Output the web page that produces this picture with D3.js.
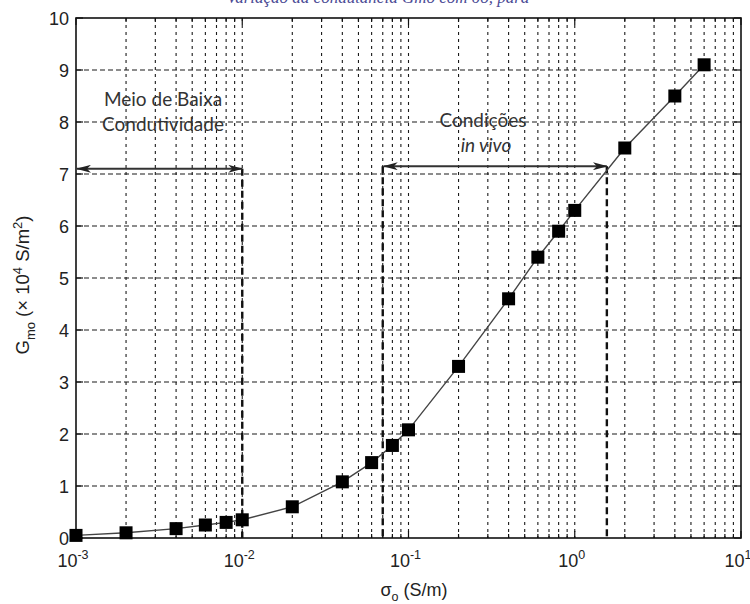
<!DOCTYPE html>
<html>
<head>
<meta charset="utf-8">
<script src="https://cdn.jsdelivr.net/npm/d3@7"></script>
<style>
  body { margin: 0; background: #fff; }
  svg { display: block; }
</style>
</head>
<body>
<script>
// Membrane conductance vs. medium conductivity
const sigma = [0.001, 0.002, 0.004, 0.006, 0.008, 0.01, 0.02, 0.04, 0.06, 0.08, 0.1,
               0.2, 0.4, 0.6, 0.8, 1, 2, 4, 6];
const gmo   = [0.05, 0.1, 0.18, 0.25, 0.3, 0.35, 0.6, 1.08, 1.45, 1.78, 2.08,
               3.3, 4.6, 5.4, 5.9, 6.3, 7.5, 8.5, 9.1];
const xTickExps = [-3, -2, -1, 0, 1];
const yTicks = [0, 1, 2, 3, 4, 5, 6, 7, 8, 9, 10];
// annotated ranges: [from, to, level]
const lowRange  = [0.001, 0.01, 7.1];
const vivoRange = [0.07, 1.56, 7.15];

const W = 750, H = 604;
const m = { left: 76, right: 9, top: 18, bottom: 66 };

const svg = d3.select("body").append("svg").attr("width", W).attr("height", H);

const x = d3.scaleLog().domain([1e-3, 10]).range([m.left, W - m.right]);
const y = d3.scaleLinear().domain([0, 10]).range([H - m.bottom, m.top]);

const defs = svg.append("defs");
defs.append("marker").attr("id", "ah")
  .attr("viewBox", "0 0 15 8").attr("refX", 14).attr("refY", 4)
  .attr("markerWidth", 15).attr("markerHeight", 8).attr("markerUnits", "userSpaceOnUse")
  .attr("orient", "auto-start-reverse")
  .append("path").attr("d", "M0,0 L15,4 L0,8 L4,4 Z").attr("fill", "#222");

// caption line running off the top of the page
svg.append("text")
  .attr("x", 378).attr("y", 3)
  .attr("text-anchor", "middle")
  .attr("font-family", "'Liberation Serif', serif")
  .attr("font-style", "italic")
  .attr("font-size", 17)
  .attr("fill", "#4b4b95")
  .text("Variação da condutância Gmo com σo, para");

// minor & major positions along x
const xGrid = [];
for (let e = -3; e < 1; e++) for (let k = 1; k <= 9; k++) xGrid.push(k * Math.pow(10, e));
xGrid.push(10);

const grid = svg.append("g").attr("stroke", "#1a1a1a").attr("stroke-width", 1.1);
grid.selectAll("line.v").data(xGrid.filter(v => v > 1e-3 && v < 10)).join("line")
  .attr("class", "v")
  .attr("x1", d => x(d)).attr("x2", d => x(d))
  .attr("y1", y(10)).attr("y2", y(0))
  .attr("stroke-dasharray", "3,4");
grid.selectAll("line.h").data(yTicks.filter(v => v > 0 && v < 10)).join("line")
  .attr("class", "h")
  .attr("x1", x(1e-3)).attr("x2", x(10))
  .attr("y1", d => y(d)).attr("y2", d => y(d))
  .attr("stroke-dasharray", "5,3");

// box frame
svg.append("rect")
  .attr("x", x(1e-3)).attr("y", y(10))
  .attr("width", x(10) - x(1e-3)).attr("height", y(0) - y(10))
  .attr("fill", "none").attr("stroke", "#111").attr("stroke-width", 1.6);

// inward ticks on all four sides
const tk = svg.append("g").attr("stroke", "#111").attr("stroke-width", 1.2);
xGrid.forEach(v => {
  const len = Number.isInteger(Math.log10(v)) ? 7 : 4;
  tk.append("line").attr("x1", x(v)).attr("x2", x(v)).attr("y1", y(0)).attr("y2", y(0) - len);
  tk.append("line").attr("x1", x(v)).attr("x2", x(v)).attr("y1", y(10)).attr("y2", y(10) + len);
});
yTicks.forEach(v => {
  tk.append("line").attr("x1", x(1e-3)).attr("x2", x(1e-3) + 7).attr("y1", y(v)).attr("y2", y(v));
  tk.append("line").attr("x1", x(10)).attr("x2", x(10) - 7).attr("y1", y(v)).attr("y2", y(v));
});

// y tick labels
svg.append("g").selectAll("text").data(yTicks).join("text")
  .attr("x", x(1e-3) - 7).attr("y", d => y(d) + 6.5)
  .attr("text-anchor", "end")
  .attr("font-family", "'Liberation Sans', Arial, sans-serif")
  .attr("font-size", 18).attr("fill", "#222")
  .text(d => d);

// x tick labels: 10^e
const xl = svg.append("g")
  .attr("font-family", "'Liberation Sans', Arial, sans-serif")
  .attr("fill", "#222");
xTickExps.forEach(e => {
  const t = xl.append("text").attr("x", x(Math.pow(10, e)) - 3).attr("y", 567)
    .attr("text-anchor", "middle").attr("font-size", 18);
  t.append("tspan").text("10");
  t.append("tspan").attr("dy", -8).attr("font-size", 12.5).text(e);
});

// axis titles
const xt = svg.append("text").attr("x", 414).attr("y", 596)
  .attr("text-anchor", "middle")
  .attr("font-family", "'Liberation Sans', Arial, sans-serif")
  .attr("font-size", 18).attr("fill", "#222");
xt.append("tspan").text("σ");
xt.append("tspan").attr("dy", 5).attr("font-size", 12.5).text("o");
xt.append("tspan").attr("dy", -5).text(" (S/m)");

const yt = svg.append("text")
  .attr("transform", "translate(29,285) rotate(-90)")
  .attr("text-anchor", "middle")
  .attr("font-family", "'Liberation Sans', Arial, sans-serif")
  .attr("font-size", 18.5).attr("fill", "#222");
yt.append("tspan").text("G");
yt.append("tspan").attr("dy", 6).attr("font-size", 13).text("mo");
yt.append("tspan").attr("dy", -6).text(" (× 10");
yt.append("tspan").attr("dy", -7).attr("font-size", 13).text("4");
yt.append("tspan").attr("dy", 7).text(" S/m");
yt.append("tspan").attr("dy", -7).attr("font-size", 13).text("2");
yt.append("tspan").attr("dy", 7).text(")");

// range markers: vertical dashed limits and double arrows
const ann = svg.append("g");
[[lowRange[1], lowRange[2]], [vivoRange[0], vivoRange[2]], [vivoRange[1], vivoRange[2]]]
  .forEach(([v, lvl]) => {
    ann.append("line")
      .attr("x1", x(v)).attr("x2", x(v))
      .attr("y1", y(lvl)).attr("y2", y(0))
      .attr("stroke", "#111").attr("stroke-width", 2.4)
      .attr("stroke-dasharray", "7,4");
  });
[lowRange, vivoRange].forEach(([a, b, lvl]) => {
  ann.append("line")
    .attr("x1", x(a) + 1).attr("x2", x(b))
    .attr("y1", y(lvl)).attr("y2", y(lvl))
    .attr("stroke", "#333").attr("stroke-width", 2)
    .attr("marker-start", "url(#ah)").attr("marker-end", "url(#ah)");
});

const annFont = "Lato, 'Open Sans', sans-serif";
function note(tx, ty, s, italic) {
  svg.append("text").attr("x", tx).attr("y", ty)
    .attr("text-anchor", "middle")
    .attr("font-family", annFont).attr("font-size", 19)
    .attr("font-style", italic ? "italic" : "normal")
    .attr("fill", "#333").text(s);
}
note(163, 106, "Meio de Baixa");
note(163, 131, "Condutividade");
note(483, 127, "Condições");
note(486, 152, "in vivo", true);

// data line and square markers
const line = d3.line().x((d, i) => x(sigma[i])).y(d => y(d));
svg.append("path").datum(gmo)
  .attr("d", line)
  .attr("fill", "none").attr("stroke", "#444").attr("stroke-width", 1.4);

const sq = 13;
svg.append("g").selectAll("rect").data(gmo).join("rect")
  .attr("x", (d, i) => x(sigma[i]) - sq / 2)
  .attr("y", d => y(d) - sq / 2)
  .attr("width", sq).attr("height", sq)
  .attr("fill", "#000");
</script>
</body>
</html>
